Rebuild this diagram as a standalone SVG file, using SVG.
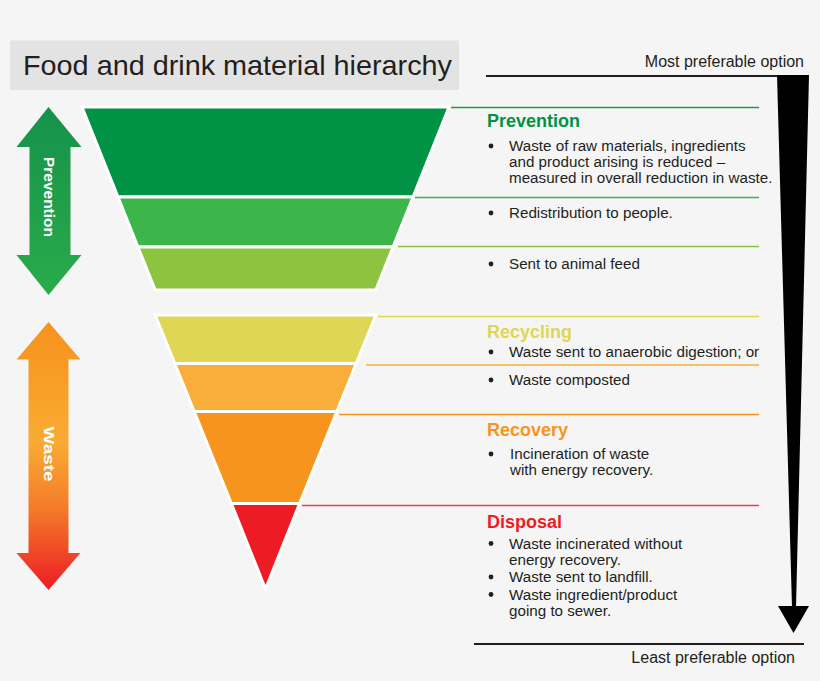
<svg xmlns="http://www.w3.org/2000/svg" width="820" height="681" viewBox="0 0 820 681">
<defs>
<style>
.bg{fill:#f5f5f5}
.lay{stroke:#ffffff;stroke-width:3;stroke-linejoin:miter}
.txt{font-family:"Liberation Sans",Arial,sans-serif;font-size:15.2px;fill:#231f20}
.hd{font-family:"Liberation Sans",Arial,sans-serif;font-size:18px;font-weight:bold}
.side{font-family:"Liberation Sans",Arial,sans-serif;font-size:15px;font-weight:bold;fill:#ffffff}
.opt{font-family:"Liberation Sans",Arial,sans-serif;font-size:16px;fill:#231f20}
.ln{stroke-width:1.5;fill:none}
.dot{fill:#231f20}
</style>
<linearGradient id="gGreen" x1="0" y1="0" x2="0" y2="1">
<stop offset="0" stop-color="#15924a"/>
<stop offset="1" stop-color="#2aab4b"/>
</linearGradient>
<linearGradient id="gWaste" x1="0" y1="0" x2="0" y2="1">
<stop offset="0" stop-color="#f6921e"/>
<stop offset="0.45" stop-color="#f9ab33"/>
<stop offset="0.7" stop-color="#f47a29"/>
<stop offset="1" stop-color="#ec1c24"/>
</linearGradient>
</defs>
<rect class="bg" x="0" y="0" width="820" height="681"/>

<g id="title">
<rect x="10" y="40.5" width="449" height="49.5" fill="#e3e3e3"/>
<text x="23" y="74.5" font-family="'Liberation Sans',Arial,sans-serif" font-size="28.5" fill="#231f20" textLength="429" lengthAdjust="spacingAndGlyphs">Food and drink material hierarchy</text>
</g>

<g id="arrow-prevention">
<polygon points="48.5,107 81.5,147 70.5,147 70.5,255 81.5,255 48.5,295 16.5,255 29.5,255 29.5,147 16.5,147" fill="url(#gGreen)"/>
<text class="side" transform="translate(44,197) rotate(90)" text-anchor="middle" textLength="80" lengthAdjust="spacingAndGlyphs">Prevention</text>
</g>

<g id="arrow-waste">
<polygon points="48.5,322 80.5,359.5 68.5,359.5 68.5,553 80.5,553 48.5,590 16.5,553 28.5,553 28.5,359.5 16.5,359.5" fill="url(#gWaste)"/>
<text class="side" transform="translate(43.5,454) rotate(90)" text-anchor="middle" textLength="55" lengthAdjust="spacingAndGlyphs">Waste</text>
</g>

<g id="layer-prevention">
<polygon class="lay" fill="#009245" points="82,107 449,107 413,197 118,197"/>
</g>
<g id="layer-redistribution">
<polygon class="lay" fill="#3cb54a" points="118,197 413,197 393,247 138,247"/>
</g>
<g id="layer-animal-feed">
<polygon class="lay" fill="#8cc43f" points="138,247 393,247 375.8,290 155.2,290"/>
</g>
<g id="layer-anaerobic">
<polygon class="lay" fill="#dfd656" points="155.2,315 375.8,315 356.2,363.5 174.8,363.5"/>
</g>
<g id="layer-composted">
<polygon class="lay" fill="#f9ae3b" points="174.8,363.5 356.2,363.5 336.8,411.5 194.2,411.5"/>
</g>
<g id="layer-recovery">
<polygon class="lay" fill="#f7941d" points="194.2,411.5 336.8,411.5 299.6,503.5 231.4,503.5"/>
</g>
<g id="layer-disposal">
<polygon class="lay" fill="#ed1c24" points="231.4,503.5 299.6,503.5 265.5,589"/>
</g>

<g id="connectors">
<line class="ln" x1="451" y1="107.5" x2="759" y2="107.5" stroke="#1d9a48"/>
<line class="ln" x1="415" y1="197.5" x2="759" y2="197.5" stroke="#3cb54a"/>
<line class="ln" x1="398" y1="246.5" x2="759" y2="246.5" stroke="#8cc43f"/>
<line class="ln" x1="378" y1="316.5" x2="759" y2="316.5" stroke="#dfd656"/>
<line class="ln" x1="366" y1="365" x2="759" y2="365" stroke="#f9ae3b"/>
<line class="ln" x1="339" y1="414.5" x2="759" y2="414.5" stroke="#f7941d"/>
<line class="ln" x1="302" y1="505.5" x2="759" y2="505.5" stroke="#e8404a"/>
</g>

<g id="text-prevention">
<text class="hd" x="487" y="127" fill="#009245">Prevention</text>
<circle class="dot" cx="491" cy="146" r="2.4"/>
<text class="txt" x="509" y="151">Waste of raw materials, ingredients</text>
<text class="txt" x="509" y="167">and product arising is reduced –</text>
<text class="txt" x="509" y="183">measured in overall reduction in waste.</text>
</g>
<g id="text-redistribution">
<circle class="dot" cx="491" cy="213" r="2.4"/>
<text class="txt" x="509" y="218">Redistribution to people.</text>
</g>
<g id="text-animal-feed">
<circle class="dot" cx="491" cy="264" r="2.4"/>
<text class="txt" x="509" y="269">Sent to animal feed</text>
</g>
<g id="text-recycling">
<text class="hd" x="487" y="338" fill="#dfd656">Recycling</text>
<circle class="dot" cx="491" cy="352" r="2.4"/>
<text class="txt" x="509" y="357">Waste sent to anaerobic digestion; or</text>
</g>
<g id="text-composted">
<circle class="dot" cx="491" cy="380" r="2.4"/>
<text class="txt" x="509" y="385">Waste composted</text>
</g>
<g id="text-recovery">
<text class="hd" x="487" y="436" fill="#f7941d">Recovery</text>
<circle class="dot" cx="491" cy="454" r="2.4"/>
<text class="txt" x="510" y="459">Incineration of waste</text>
<text class="txt" x="510" y="475">with energy recovery.</text>
</g>
<g id="text-disposal">
<text class="hd" x="487" y="528" fill="#ed1c24">Disposal</text>
<circle class="dot" cx="491" cy="543.5" r="2.4"/>
<text class="txt" x="509" y="548.5">Waste incinerated without</text>
<text class="txt" x="509" y="564.5">energy recovery.</text>
<circle class="dot" cx="491" cy="577" r="2.4"/>
<text class="txt" x="509" y="582">Waste sent to landfill.</text>
<circle class="dot" cx="491" cy="594.5" r="2.4"/>
<text class="txt" x="509" y="599.5">Waste ingredient/product</text>
<text class="txt" x="509" y="615.5">going to sewer.</text>
</g>

<g id="preference-scale">
<text class="opt" x="804" y="67" text-anchor="end">Most preferable option</text>
<line x1="486" y1="76" x2="808" y2="76" stroke="#231f20" stroke-width="2"/>
<polygon points="777,75 809,75 796,607 792,607" fill="#000000"/>
<polygon points="778,606 809,606 793.5,633" fill="#000000"/>
<line x1="474" y1="644" x2="804" y2="644" stroke="#231f20" stroke-width="2"/>
<text class="opt" x="795" y="663" text-anchor="end">Least preferable option</text>
</g>
</svg>
